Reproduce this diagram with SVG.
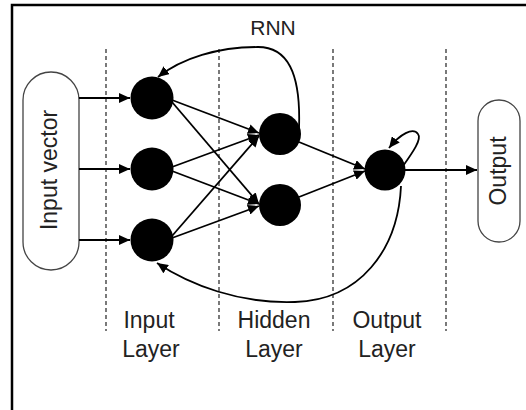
<svg xmlns="http://www.w3.org/2000/svg" width="526" height="410" viewBox="0 0 526 410">
<style>
.lbl{font-family:"Liberation Sans",Arial,sans-serif;font-size:23px;fill:#222;text-anchor:middle}
.edge{stroke:#000;stroke-width:1.8;fill:none}
.dash{stroke:#333;stroke-width:1.3;stroke-dasharray:4 3;fill:none}
.node{fill:#000}
.box{fill:#fff;stroke:#444;stroke-width:1.3}
</style>
<defs>
<marker id="ah" markerUnits="userSpaceOnUse" markerWidth="12" markerHeight="10" refX="11" refY="5" orient="auto">
<path d="M0,0 L11,5 L0,10 z" fill="#000"/>
</marker>
</defs>
<rect width="526" height="410" fill="#fff"/>
<path d="M12 410 V5 H526" fill="none" stroke="#000" stroke-width="2.5"/>
<g id="dividers">
<line class="dash" x1="106" y1="49" x2="106" y2="331"/>
<line class="dash" x1="219" y1="49" x2="219" y2="331"/>
<line class="dash" x1="333" y1="49" x2="333" y2="331"/>
<line class="dash" x1="446" y1="49" x2="446" y2="331"/>
</g>
<g id="input-vector">
<rect class="box" x="23" y="72" width="56" height="198" rx="28"/>
<text class="lbl" transform="translate(57,170) rotate(-90)">Input vector</text>
</g>
<g id="output-box">
<rect class="box" x="478" y="100" width="42" height="142" rx="21"/>
<text class="lbl" transform="translate(506,171) rotate(-90)">Output</text>
</g>
<g id="in1"><circle class="node" cx="152" cy="98" r="21.5"/></g>
<g id="in2"><circle class="node" cx="152" cy="169" r="21.5"/></g>
<g id="in3"><circle class="node" cx="152" cy="240" r="21.5"/></g>
<g id="hid1"><circle class="node" cx="280" cy="134" r="21"/></g>
<g id="hid2"><circle class="node" cx="280" cy="205" r="21"/></g>
<g id="out"><circle class="node" cx="385" cy="170" r="20.5"/></g>
<g id="rnn-label"><text class="lbl" x="273" y="35" style="font-size:21px">RNN</text></g>
<g id="layer-labels">
<text class="lbl" x="149" y="328">Input</text>
<text class="lbl" x="151" y="357">Layer</text>
<text class="lbl" x="274" y="328">Hidden</text>
<text class="lbl" x="274" y="357">Layer</text>
<text class="lbl" x="387" y="328">Output</text>
<text class="lbl" x="387" y="357">Layer</text>
</g>
<g id="connectors">
<line class="edge" x1="79" y1="98" x2="130" y2="98" marker-end="url(#ah)"/>
<line class="edge" x1="79" y1="169" x2="130" y2="169" marker-end="url(#ah)"/>
<line class="edge" x1="79" y1="240" x2="130" y2="240" marker-end="url(#ah)"/>
<line class="edge" x1="172" y1="100" x2="259" y2="133" marker-end="url(#ah)"/>
<line class="edge" x1="172" y1="102" x2="259" y2="204" marker-end="url(#ah)"/>
<line class="edge" x1="172" y1="167" x2="259" y2="135" marker-end="url(#ah)"/>
<line class="edge" x1="172" y1="171" x2="259" y2="204" marker-end="url(#ah)"/>
<line class="edge" x1="172" y1="236" x2="259" y2="136" marker-end="url(#ah)"/>
<line class="edge" x1="172" y1="238" x2="259" y2="206" marker-end="url(#ah)"/>
<line class="edge" x1="299" y1="142" x2="365" y2="169" marker-end="url(#ah)"/>
<line class="edge" x1="299" y1="197" x2="365" y2="171" marker-end="url(#ah)"/>
<line class="edge" x1="405" y1="170" x2="477" y2="170" marker-end="url(#ah)"/>
<path class="edge" d="M299 128 C301 72 287 47 258 47 C218 47 182 58 158 77" marker-end="url(#ah)"/>
<path class="edge" d="M403 166 C413 152 422 139 418 134 C413 127 400 134 389 148" marker-end="url(#ah)"/>
<path class="edge" d="M401 186 C398 250 360 300 295 302 C240 304 190 285 157 263" marker-end="url(#ah)"/>
</g>
</svg>
